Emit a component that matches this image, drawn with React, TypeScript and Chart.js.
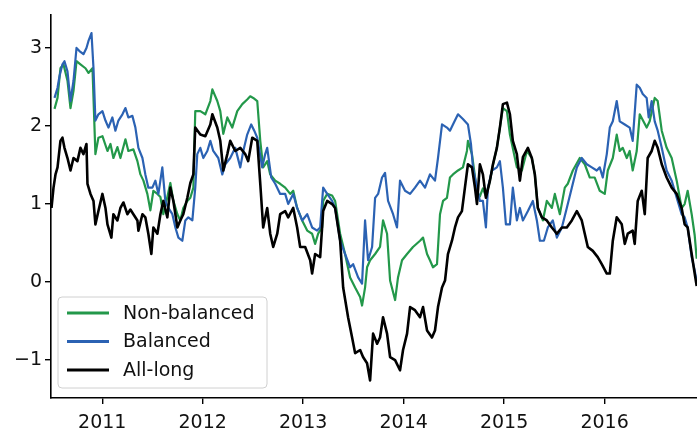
import React, { useEffect, useRef } from "react";
import { Chart, registerables } from "chart.js";

Chart.register(...registerables);

// [decimal year, value]
const nonBalanced: [number, number][] = [
  [2010.525, 2.22], [2010.555, 2.36], [2010.584, 2.74], [2010.614, 2.79], [2010.654, 2.58],
  [2010.684, 2.23], [2010.714, 2.45], [2010.744, 2.83], [2010.783, 2.79], [2010.833, 2.74],
  [2010.863, 2.68], [2010.903, 2.74], [2010.932, 1.64], [2010.962, 1.85], [2011.002, 1.87],
  [2011.052, 1.68], [2011.082, 1.77], [2011.111, 1.59], [2011.151, 1.73], [2011.181, 1.59],
  [2011.231, 1.83], [2011.260, 1.68], [2011.310, 1.70], [2011.350, 1.55], [2011.380, 1.38],
  [2011.410, 1.30], [2011.449, 1.13], [2011.479, 0.92], [2011.509, 1.17], [2011.549, 1.13],
  [2011.579, 1.09], [2011.608, 0.87], [2011.648, 1.09], [2011.678, 1.27], [2011.708, 1.04],
  [2011.748, 0.87], [2011.777, 0.79], [2011.807, 0.95], [2011.847, 1.04], [2011.877, 1.08],
  [2011.907, 1.21], [2011.926, 2.19], [2011.976, 2.19], [2012.026, 2.15], [2012.076, 2.32],
  [2012.096, 2.47], [2012.145, 2.32], [2012.175, 2.19], [2012.205, 1.90], [2012.245, 2.11],
  [2012.294, 1.98], [2012.344, 2.19], [2012.394, 2.28], [2012.443, 2.34], [2012.473, 2.38],
  [2012.503, 2.36], [2012.543, 2.32], [2012.573, 1.81], [2012.602, 1.47], [2012.642, 1.55],
  [2012.672, 1.38], [2012.722, 1.30], [2012.771, 1.26], [2012.821, 1.21], [2012.871, 1.13],
  [2012.901, 1.17], [2012.940, 0.95], [2012.990, 0.79], [2013.040, 0.66], [2013.089, 0.62],
  [2013.119, 0.49], [2013.149, 0.62], [2013.189, 0.70], [2013.199, 1.04], [2013.239, 1.13],
  [2013.288, 1.11], [2013.318, 1.04], [2013.368, 0.62], [2013.417, 0.36], [2013.467, 0.06],
  [2013.517, -0.07], [2013.567, -0.19], [2013.586, -0.30], [2013.616, -0.07], [2013.636, 0.19],
  [2013.666, 0.28], [2013.716, 0.36], [2013.765, 0.45], [2013.795, 0.79], [2013.835, 0.62],
  [2013.865, 0.02], [2013.915, -0.23], [2013.944, 0.06], [2013.984, 0.28], [2014.034, 0.36],
  [2014.093, 0.45], [2014.163, 0.53], [2014.193, 0.57], [2014.233, 0.36], [2014.262, 0.28],
  [2014.292, 0.19], [2014.332, 0.23], [2014.362, 0.87], [2014.392, 1.04], [2014.431, 1.08],
  [2014.461, 1.34], [2014.491, 1.38], [2014.541, 1.43], [2014.590, 1.47], [2014.630, 1.68],
  [2014.640, 1.81], [2014.680, 1.64], [2014.710, 1.35], [2014.730, 1.15], [2014.759, 1.10],
  [2014.789, 1.20], [2014.819, 1.10], [2014.859, 1.30], [2014.889, 1.50], [2014.928, 1.72],
  [2014.958, 1.98], [2014.988, 2.23], [2015.028, 2.19], [2015.058, 1.89], [2015.127, 1.47],
  [2015.177, 1.43], [2015.227, 1.68], [2015.276, 1.59], [2015.306, 1.38], [2015.336, 0.95],
  [2015.386, 0.79], [2015.425, 1.04], [2015.475, 0.95], [2015.505, 1.13], [2015.555, 0.87],
  [2015.604, 1.21], [2015.634, 1.26], [2015.684, 1.43], [2015.753, 1.59], [2015.803, 1.51],
  [2015.853, 1.34], [2015.902, 1.34], [2015.952, 1.17], [2016.002, 1.13], [2016.032, 1.43],
  [2016.082, 1.59], [2016.121, 1.89], [2016.151, 1.68], [2016.181, 1.72], [2016.221, 1.59],
  [2016.250, 1.68], [2016.280, 1.43], [2016.320, 1.68], [2016.350, 2.15], [2016.419, 1.98],
  [2016.449, 2.06], [2016.499, 2.36], [2016.529, 2.32], [2016.569, 1.94], [2016.618, 1.72],
  [2016.668, 1.59], [2016.718, 1.30], [2016.767, 0.95], [2016.797, 1.00], [2016.827, 1.17],
  [2016.867, 0.87], [2016.897, 0.60], [2016.917, 0.30],
];

const balanced: [number, number][] = [
  [2010.525, 2.36], [2010.555, 2.49], [2010.575, 2.64], [2010.604, 2.79], [2010.624, 2.83],
  [2010.654, 2.70], [2010.684, 2.32], [2010.714, 2.58], [2010.744, 3.00], [2010.773, 2.96],
  [2010.813, 2.92], [2010.843, 3.00], [2010.863, 3.09], [2010.893, 3.19], [2010.913, 2.74],
  [2010.932, 2.07], [2010.962, 2.15], [2011.002, 2.19], [2011.032, 2.07], [2011.062, 1.98],
  [2011.101, 2.11], [2011.131, 1.94], [2011.161, 2.07], [2011.201, 2.15], [2011.231, 2.23],
  [2011.260, 2.11], [2011.300, 2.13], [2011.330, 1.98], [2011.360, 1.72], [2011.400, 1.59],
  [2011.429, 1.38], [2011.459, 1.21], [2011.499, 1.21], [2011.529, 1.30], [2011.559, 1.13],
  [2011.598, 1.47], [2011.628, 1.04], [2011.658, 0.95], [2011.698, 0.87], [2011.728, 0.70],
  [2011.758, 0.57], [2011.797, 0.53], [2011.827, 0.79], [2011.857, 0.83], [2011.897, 0.79],
  [2011.926, 1.21], [2011.946, 1.64], [2011.976, 1.72], [2012.006, 1.59], [2012.046, 1.68],
  [2012.076, 1.81], [2012.105, 1.68], [2012.155, 1.59], [2012.195, 1.38], [2012.225, 1.51],
  [2012.274, 1.59], [2012.324, 1.72], [2012.374, 1.47], [2012.404, 1.68], [2012.443, 1.89],
  [2012.483, 2.02], [2012.513, 1.94], [2012.543, 1.85], [2012.592, 1.47], [2012.622, 1.64],
  [2012.642, 1.72], [2012.682, 1.34], [2012.722, 1.26], [2012.771, 1.13], [2012.821, 1.13],
  [2012.851, 1.00], [2012.901, 1.13], [2012.940, 0.95], [2012.990, 0.79], [2013.040, 0.87],
  [2013.089, 0.70], [2013.139, 0.66], [2013.169, 0.70], [2013.199, 1.21], [2013.239, 1.13],
  [2013.288, 1.04], [2013.318, 0.95], [2013.368, 0.53], [2013.417, 0.36], [2013.467, 0.19],
  [2013.497, 0.23], [2013.547, 0.06], [2013.586, -0.02], [2013.616, 0.79], [2013.646, 0.28],
  [2013.686, 0.45], [2013.716, 1.08], [2013.746, 1.13], [2013.785, 1.34], [2013.815, 1.40],
  [2013.845, 1.04], [2013.895, 0.87], [2013.934, 0.70], [2013.964, 1.30], [2014.014, 1.17],
  [2014.064, 1.13], [2014.113, 1.21], [2014.163, 1.30], [2014.213, 1.21], [2014.262, 1.38],
  [2014.312, 1.30], [2014.342, 1.59], [2014.382, 2.02], [2014.431, 1.98], [2014.461, 1.94],
  [2014.491, 2.02], [2014.541, 2.15], [2014.590, 2.09], [2014.640, 2.02], [2014.670, 1.77],
  [2014.690, 1.47], [2014.730, 1.21], [2014.759, 1.04], [2014.789, 1.04], [2014.819, 0.70],
  [2014.839, 1.21], [2014.879, 1.43], [2014.928, 1.47], [2014.958, 1.55], [2014.988, 1.21],
  [2015.018, 0.74], [2015.058, 0.74], [2015.087, 1.21], [2015.127, 0.79], [2015.157, 0.95],
  [2015.187, 0.79], [2015.237, 0.91], [2015.286, 1.04], [2015.326, 0.79], [2015.356, 0.53],
  [2015.396, 0.53], [2015.435, 0.70], [2015.485, 0.79], [2015.525, 0.57], [2015.575, 0.70],
  [2015.624, 0.95], [2015.674, 1.21], [2015.724, 1.47], [2015.773, 1.59], [2015.823, 1.51],
  [2015.873, 1.47], [2015.922, 1.43], [2015.952, 1.47], [2015.982, 1.34], [2016.022, 1.64],
  [2016.052, 1.98], [2016.082, 2.06], [2016.121, 2.32], [2016.151, 2.06], [2016.201, 2.02],
  [2016.250, 1.98], [2016.280, 1.81], [2016.320, 2.53], [2016.350, 2.49], [2016.380, 2.41],
  [2016.419, 2.36], [2016.439, 2.11], [2016.469, 2.32], [2016.499, 2.06], [2016.529, 1.94],
  [2016.569, 1.72], [2016.618, 1.43], [2016.668, 1.30], [2016.718, 1.08], [2016.767, 0.87],
  [2016.797, 0.83], [2016.827, 0.70], [2016.867, 0.32], [2016.897, 0.15], [2016.917, 0.00],
];

const allLong: [number, number][] = [
  [2010.495, 0.95], [2010.515, 1.21], [2010.535, 1.38], [2010.555, 1.47], [2010.584, 1.81],
  [2010.604, 1.85], [2010.624, 1.72], [2010.654, 1.59], [2010.684, 1.43], [2010.714, 1.59],
  [2010.753, 1.55], [2010.783, 1.72], [2010.813, 1.64], [2010.843, 1.77], [2010.853, 1.26],
  [2010.883, 1.13], [2010.913, 1.04], [2010.932, 0.74], [2010.962, 0.91], [2011.002, 1.13],
  [2011.032, 0.95], [2011.052, 0.74], [2011.091, 0.57], [2011.111, 0.87], [2011.151, 0.79],
  [2011.181, 0.95], [2011.211, 1.02], [2011.250, 0.87], [2011.280, 0.93], [2011.310, 0.87],
  [2011.350, 0.79], [2011.360, 0.66], [2011.400, 0.87], [2011.429, 0.83], [2011.459, 0.62],
  [2011.489, 0.36], [2011.509, 0.70], [2011.549, 0.62], [2011.579, 0.87], [2011.608, 1.04],
  [2011.648, 0.83], [2011.678, 1.21], [2011.708, 1.04], [2011.748, 0.70], [2011.777, 0.79],
  [2011.807, 0.87], [2011.847, 1.08], [2011.877, 1.27], [2011.907, 1.38], [2011.926, 1.98],
  [2011.976, 1.89], [2012.026, 1.87], [2012.076, 2.02], [2012.096, 2.15], [2012.145, 1.98],
  [2012.175, 1.81], [2012.205, 1.43], [2012.245, 1.64], [2012.274, 1.81], [2012.324, 1.68],
  [2012.374, 1.72], [2012.423, 1.64], [2012.453, 1.55], [2012.493, 1.85], [2012.543, 1.81],
  [2012.573, 1.26], [2012.602, 0.70], [2012.642, 0.95], [2012.672, 0.62], [2012.702, 0.45],
  [2012.742, 0.62], [2012.771, 0.87], [2012.821, 0.91], [2012.851, 0.83], [2012.901, 0.95],
  [2012.940, 0.70], [2012.970, 0.45], [2013.020, 0.45], [2013.070, 0.28], [2013.089, 0.11],
  [2013.119, 0.36], [2013.169, 0.32], [2013.199, 0.91], [2013.239, 1.04], [2013.288, 1.00],
  [2013.318, 0.95], [2013.368, 0.53], [2013.398, -0.07], [2013.447, -0.45], [2013.487, -0.71],
  [2013.517, -0.91], [2013.567, -0.87], [2013.596, -0.96], [2013.636, -1.04], [2013.666, -1.26],
  [2013.696, -0.66], [2013.736, -0.79], [2013.765, -0.71], [2013.795, -0.45], [2013.835, -0.66],
  [2013.865, -0.96], [2013.915, -1.00], [2013.964, -1.13], [2013.994, -0.87], [2014.034, -0.66],
  [2014.064, -0.32], [2014.113, -0.36], [2014.163, -0.45], [2014.193, -0.32], [2014.233, -0.62],
  [2014.282, -0.71], [2014.312, -0.62], [2014.342, -0.32], [2014.382, -0.07], [2014.412, 0.02],
  [2014.441, 0.36], [2014.481, 0.53], [2014.511, 0.70], [2014.541, 0.83], [2014.580, 0.91],
  [2014.610, 1.21], [2014.640, 1.51], [2014.680, 1.47], [2014.710, 1.21], [2014.730, 1.00],
  [2014.759, 1.51], [2014.789, 1.38], [2014.819, 1.08], [2014.859, 1.30], [2014.889, 1.51],
  [2014.928, 1.72], [2014.958, 1.98], [2014.988, 2.28], [2015.028, 2.30], [2015.058, 2.15],
  [2015.087, 1.81], [2015.127, 1.64], [2015.157, 1.30], [2015.187, 1.60], [2015.237, 1.72],
  [2015.276, 1.59], [2015.306, 1.38], [2015.336, 0.95], [2015.376, 0.83], [2015.425, 0.79],
  [2015.475, 0.70], [2015.525, 0.62], [2015.575, 0.70], [2015.624, 0.70], [2015.674, 0.79],
  [2015.724, 0.91], [2015.773, 0.79], [2015.803, 0.62], [2015.833, 0.45], [2015.883, 0.40],
  [2015.932, 0.32], [2015.972, 0.23], [2016.022, 0.11], [2016.052, 0.11], [2016.082, 0.53],
  [2016.121, 0.83], [2016.171, 0.74], [2016.201, 0.49], [2016.231, 0.62], [2016.280, 0.66],
  [2016.300, 0.49], [2016.330, 1.04], [2016.370, 1.17], [2016.400, 0.87], [2016.429, 1.59],
  [2016.469, 1.68], [2016.499, 1.81], [2016.529, 1.72], [2016.569, 1.51], [2016.618, 1.34],
  [2016.668, 1.21], [2016.718, 1.13], [2016.767, 0.95], [2016.797, 0.74], [2016.827, 0.70],
  [2016.867, 0.36], [2016.897, 0.11], [2016.917, -0.05],
];

const yearTicks = [2011, 2012, 2013, 2014, 2015, 2016];
const valueTicks = [-1, 0, 1, 2, 3];
const seriesLabels = ["Non-balanced", "Balanced", "All-long"];
const seriesColors = ["#23984a", "#2b62b3", "#000000"];
const seriesWidths = [2.2, 2.2, 2.6];

const FONT = '"DejaVu Sans", Verdana, sans-serif';

const legendPlugin = {
  id: "insideLegend",
  afterDatasetsDraw(chart: any) {
    const ctx = chart.ctx;
    const area = chart.chartArea;
    const x0 = area.left + 7;
    const y0 = area.bottom - 101;
    const w = 209;
    const h = 91;
    ctx.save();
    ctx.beginPath();
    const r = 4;
    ctx.moveTo(x0 + r, y0);
    ctx.lineTo(x0 + w - r, y0);
    ctx.quadraticCurveTo(x0 + w, y0, x0 + w, y0 + r);
    ctx.lineTo(x0 + w, y0 + h - r);
    ctx.quadraticCurveTo(x0 + w, y0 + h, x0 + w - r, y0 + h);
    ctx.lineTo(x0 + r, y0 + h);
    ctx.quadraticCurveTo(x0, y0 + h, x0, y0 + h - r);
    ctx.lineTo(x0, y0 + r);
    ctx.quadraticCurveTo(x0, y0, x0 + r, y0);
    ctx.closePath();
    ctx.fillStyle = "rgba(255,255,255,0.85)";
    ctx.fill();
    ctx.strokeStyle = "#d0d0d0";
    ctx.lineWidth = 1;
    ctx.stroke();
    ctx.font = `19px ${FONT}`;
    ctx.textBaseline = "middle";
    ctx.textAlign = "left";
    chart.data.datasets.forEach((ds: any) => {
      const idx = seriesLabels.indexOf(ds.label);
      const cy = y0 + 16 + idx * 28.5;
      ctx.beginPath();
      ctx.strokeStyle = ds.borderColor;
      ctx.lineWidth = ds.borderWidth + 0.6;
      ctx.moveTo(x0 + 9, cy);
      ctx.lineTo(x0 + 51, cy);
      ctx.stroke();
      ctx.fillStyle = "#111";
      ctx.fillText(ds.label, x0 + 65, cy + 1);
    });
    ctx.restore();
  },
};

export default function App() {
  const ref = useRef<HTMLCanvasElement | null>(null);
  useEffect(() => {
    document.body.style.margin = "0";
    const canvas = ref.current;
    if (!canvas) return;
    const series = [nonBalanced, balanced, allLong];
    const chart = new Chart(canvas, {
      type: "line",
      data: {
        datasets: series.map((s, i) => ({
          label: seriesLabels[i],
          data: s.map(([x, y]) => ({ x, y })),
          borderColor: seriesColors[i],
          backgroundColor: seriesColors[i],
          borderWidth: seriesWidths[i],
          pointRadius: 0,
          tension: 0,
          borderJoinStyle: "round" as const,
          order: 3 - i,
        })),
      },
      options: {
        animation: false,
        responsive: false,
        maintainAspectRatio: false,
        layout: { padding: { top: 13, right: 0, left: 0, bottom: 0 } },
        plugins: {
          legend: { display: false },
          tooltip: { enabled: false },
        },
        scales: {
          x: {
            type: "linear",
            min: 2010.49,
            max: 2016.92,
            afterBuildTicks: (scale: any) => {
              scale.ticks = yearTicks.map((v) => ({ value: v }));
            },
            afterFit: (scale: any) => {
              scale.height = 32;
            },
            ticks: {
              callback: (v: any) => String(v),
              font: { family: FONT, size: 19 },
              color: "#111",
              padding: 8,
              maxRotation: 0,
              autoSkip: false,
            },
            grid: {
              display: true,
              drawOnChartArea: false,
              drawTicks: true,
              tickLength: 6,
              color: "#000",
              lineWidth: 1.4,
            },
            border: { display: true, color: "#000", width: 1.6 },
          },
          y: {
            type: "linear",
            min: -1.485,
            max: 3.43,
            afterBuildTicks: (scale: any) => {
              scale.ticks = valueTicks.map((v) => ({ value: v }));
            },
            afterFit: (scale: any) => {
              scale.width = 51;
            },
            ticks: {
              callback: (v: any) => (v < 0 ? "\u2212" + Math.abs(v) : String(v)),
              font: { family: FONT, size: 19 },
              color: "#111",
              padding: 3,
            },
            grid: {
              display: true,
              drawOnChartArea: false,
              drawTicks: true,
              tickLength: 6,
              color: "#000",
              lineWidth: 1.4,
            },
            border: { display: true, color: "#000", width: 1.6 },
          },
        },
      },
      plugins: [legendPlugin],
    } as any);
    return () => chart.destroy();
  }, []);
  return (
    <div style={{ width: 697, height: 430, background: "#fff" }}>
      <canvas ref={ref} width={697} height={430} style={{ display: "block", width: 697, height: 430 }} />
    </div>
  );
}
